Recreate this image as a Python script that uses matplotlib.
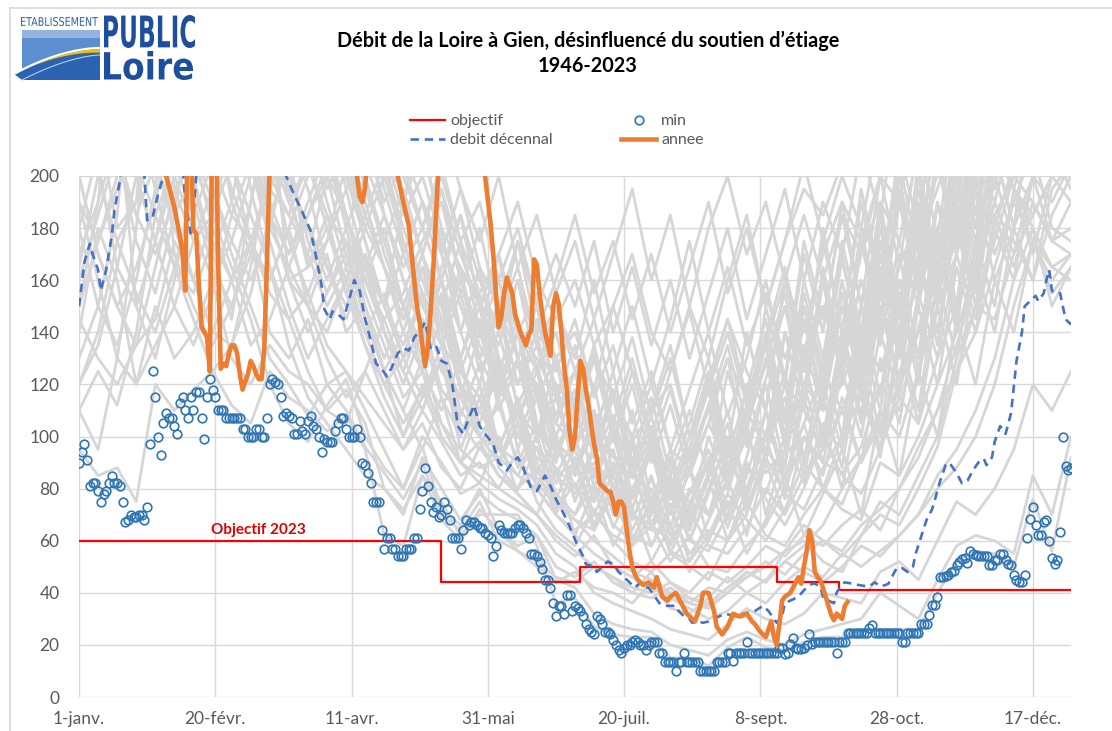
import numpy as np
import matplotlib
matplotlib.use("Agg")
import matplotlib.pyplot as plt
from matplotlib.font_manager import FontProperties
from matplotlib.textpath import TextPath
from matplotlib.patches import PathPatch, Rectangle, Polygon
from matplotlib.transforms import Affine2D

plt.rcParams['font.family'] = ['Lato', 'DejaVu Sans']

# --- axe des jours ---
jours_ticks = [1, 51, 101, 151, 201, 251, 301, 351]
labels_ticks = ["1-janv.", "20-févr.", "11-avr.", "31-mai", "20-juil.",
                "8-sept.", "28-oct.", "17-déc."]

# --- min journalier 1946-2023 (un point par jour) ---
debit_min = [
    # janv.
    90, 94, 97, 91, 81, 82, 82, 79, 75, 78, 79, 82, 85, 82, 82, 81, 75, 67, 68, 70,
    69, 69, 70, 70, 68, 73, 97, 125, 115, 100, 93,
    # févr.
    105, 109, 107, 107, 104, 101, 113, 115, 110, 107, 115, 110, 117, 117, 107, 99,
    115, 122, 118, 115, 110, 110, 110, 107, 107, 107, 107, 107,
    # mars
    107, 103, 103, 100, 100, 100, 103, 103, 100, 100, 107, 120, 122, 121, 120, 115,
    108, 109, 108, 107, 101, 101, 106, 102, 101, 106, 108, 104, 103, 100, 94,
    # avr.
    99, 98, 98, 98, 102, 105, 107, 107, 103, 100, 100, 100, 103, 100, 90, 89, 86,
    82, 75, 75, 75, 64, 57, 61, 61, 57, 57, 54, 54, 54,
    # mai
    57, 57, 57, 61, 61, 72, 79, 88, 81, 75, 71, 73, 69, 70, 75, 72, 68, 61, 61, 61,
    57, 64, 68, 66, 67, 67, 66, 65, 65, 63, 62,
    # juin
    61, 54, 58, 66, 64, 63, 63, 63, 63, 65, 66, 66, 65, 63, 61, 55, 55, 54, 52, 49,
    45, 45, 42, 36, 31, 35, 35, 32, 39, 39,
    # juil.
    33, 35, 34, 33, 31, 28, 26, 25, 24, 31, 30, 28, 25, 25, 24, 22, 20, 18, 17, 19,
    20, 20, 21, 22, 21, 20, 20, 18, 20, 21, 21,
    # août
    21, 17, 17, 13.5, 13.5, 13.5, 13.5, 10, 13.5, 13.5, 17, 13.5, 13.5, 13.5, 13.5,
    13.5, 10, 10, 10, 10, 10, 10, 13.5, 13.5, 13.5, 13.5, 17, 17, 14, 17, 17,
    # sept.
    17, 17, 21, 17, 17, 17, 17, 17, 17, 17, 17, 17, 17, 17, 19, 19, 16.5, 17, 20.5,
    22.5, 19, 18.5, 18.5, 19, 20, 24, 20.5, 21, 21, 21,
    # oct.
    21, 21, 21, 21, 21, 17, 21, 21, 21, 24.5, 24.5, 24.5, 24.5, 24.5, 24.5, 24.5,
    24.5, 26.5, 27.5, 24.5, 24.5, 24.5, 24.5, 24.5, 24.5, 24.5, 24.5, 24.5, 24.5,
    21, 21,
    # nov.
    24.5, 24.5, 24.5, 24.5, 24.5, 28, 28, 28, 31.5, 35.5, 35.5, 38.5, 46, 46, 46.5,
    47, 48, 48.5, 50.5, 52, 53, 53.5, 51.5, 56, 55, 54.5, 54, 54, 54, 54,
    # déc.
    50.5, 50.5, 52.5, 52.5, 55, 55, 52.5, 51, 50.5, 47, 45, 44, 44, 47, 61, 68.5,
    73, 66, 62, 62, 67, 68, 60, 53.5, 51, 52.5, 63.5, 100, 88.5, 87, 88,
]

# --- débit décennal sec ---
jours_decennal = [1, 3, 5, 6, 8, 9, 11, 13, 14, 16, 17, 20, 24, 25, 26, 28, 30, 32,
                  35, 39, 40, 42, 43, 44, 46, 55, 65, 74, 77, 79, 83, 86, 88, 90,
                  91, 93, 94, 96, 98, 100, 102, 104, 106, 108, 110, 112, 114, 116,
                  118, 120, 122, 124, 127, 128, 130, 132, 134, 136, 138, 140, 142,
                  144, 146, 148, 150, 153, 155, 158, 160, 162, 164, 165, 167, 169,
                  171, 172, 174, 176, 178, 180, 182, 184, 186, 187, 190, 191, 193,
                  195, 197, 199, 201, 203, 205, 207, 209, 210, 212, 214, 216, 218,
                  220, 221, 223, 225, 226, 228, 230, 232, 234, 236, 238, 240, 242,
                  245, 249, 252, 254, 257, 259, 260, 262, 265, 267, 270, 271, 273,
                  274, 276, 278, 279, 281, 282, 285, 287, 290, 291, 293, 295, 297,
                  298, 300, 301, 303, 305, 307, 308, 310, 312, 314, 315, 317, 319,
                  320, 321, 323, 325, 327, 329, 331, 333, 334, 336, 337, 339, 341,
                  343, 344, 345, 347, 348, 350, 352, 353, 355, 356, 357, 358, 359,
                  361, 362, 363, 365]
debit_decennal = [150, 167, 174, 170, 164, 156, 164, 177, 187, 198, 205, 225, 215,
                  200, 183, 184, 193, 200, 220, 205, 190, 178, 185, 200, 225, 240,
                  235, 215, 200, 195, 186, 179, 169, 158, 149, 145, 148, 147, 145,
                  152, 160, 156, 145, 137, 128, 126, 123, 127, 132, 134, 133, 138,
                  142, 144, 134, 135, 129, 128, 120, 104, 101, 107, 112, 104, 101,
                  97, 90, 87, 90, 92, 88, 85, 80, 79, 83, 85, 81, 76, 72, 68, 63,
                  58, 54, 51, 50, 48, 50, 52, 51, 48, 46, 44, 42, 44, 42, 42, 39,
                  36, 35, 35, 35, 33, 31, 30, 28.5, 29, 28.5, 29, 30, 31, 32, 31.5,
                  31, 32, 33, 35, 33, 28.5, 31, 36, 37, 38.5, 41, 43.5, 43.5, 42.5,
                  38.5, 37, 36, 40, 43.5, 44, 43.5, 43, 42.5, 42.5, 44, 42.5, 43,
                  43.5, 47.5, 49.5, 49.5, 48, 50, 55, 61.5, 68, 72, 75.5, 83, 89,
                  90, 89, 86, 82, 83, 87, 90, 91.5, 89, 92, 98, 104, 101, 109, 119,
                  129, 140, 150, 152, 154, 152, 155, 160, 164, 156, 155, 155, 150,
                  145, 143]

# --- année 2023 ---
jours_annee = [1, 31, 33, 35, 36, 38, 39, 40, 41, 42, 43, 44, 45, 46, 47, 48, 49, 50,
               51, 52, 53, 54, 55, 56, 57, 58, 59, 60, 61, 62, 63, 64, 65, 66, 67,
               68, 69, 70, 71, 72, 100, 102, 103, 104, 105, 106, 107, 108, 116, 118,
               120, 122, 124, 125, 126, 127, 128, 129, 130, 131, 132, 133, 134, 148,
               150, 152, 153, 154, 155, 156, 157, 158, 160, 161, 163, 165, 166, 167,
               168, 169, 170, 171, 172, 174, 175, 176, 177, 178, 179, 180, 181, 182,
               183, 184, 185, 186, 187, 188, 189, 190, 191, 192, 193, 195, 196, 197,
               198, 199, 200, 201, 202, 203, 204, 205, 206, 208, 210, 212, 213, 215,
               217, 218, 220, 222, 224, 227, 229, 230, 232, 234, 235, 237, 239, 241,
               243, 244, 246, 248, 249, 251, 253, 254, 255, 256, 257, 258, 259, 260,
               262, 264, 265, 266, 267, 268, 269, 270, 271, 272, 273, 275, 276, 277,
               278, 279, 281, 282, 283]
debit_annee = [260, 255, 200, 192, 188, 177, 170, 156, 230, 215, 179, 178, 158, 142,
               140, 138, 125, 240, 240, 170, 126, 128, 127, 132, 135, 135, 132, 124,
               118, 121, 124, 129, 127, 124, 122, 122, 134, 168, 205, 260, 260, 215,
               200, 192, 190, 196, 210, 240, 240, 200, 190, 181, 160, 150, 144, 135,
               127, 134, 148, 164, 185, 205, 240, 240, 200, 182, 170, 155, 142, 146,
               155, 161, 155, 147, 140, 135, 139, 141, 168, 166, 155, 147, 140, 131,
               150, 155, 151, 140, 127, 118, 102, 95, 100, 116, 129, 126, 118, 112,
               104, 97, 92, 82, 81, 79, 78.7, 75, 70, 75, 75, 73, 64, 56, 50, 47, 45,
               43, 44, 42, 46, 38.5, 37, 38.5, 40, 36, 32, 29, 35, 40, 40, 33, 27, 24,
               27, 32, 31, 31, 32, 29, 28, 25, 23, 26, 29, 23, 20, 28, 37, 38.5, 40,
               44, 46, 43.5, 50, 56, 64, 60, 48, 46, 45, 38.5, 35, 31.5, 29.5, 32, 30,
               35, 36.5]

# --- objectif 2023 (paliers) ---
objectif_debut = [1, 134, 185, 257, 280, 365]
objectif_valeur = [60, 44, 50, 44, 41, 41]

# --- autres années (lecture hebdomadaire approximative) ---
jours_gris = np.arange(1, 366, 7)
annees_grises = [
    [95, 85, 88, 75, 120, 110, 118, 125, 112, 105, 125, 115, 110,
     102, 108, 95, 62, 58, 85, 75, 62, 70, 70, 70, 58, 36,
     38, 27, 24, 23, 23, 15, 15, 12, 19, 23, 19, 18, 21,
     23, 23, 26, 26, 26, 26, 40, 52, 56, 55, 50, 76, 56, 92],
    [140, 180, 160, 120, 150, 130, 140, 160, 130, 120, 135, 125, 120,
     110, 118, 105, 80, 70, 92, 80, 68, 78, 72, 68, 62, 45,
     42, 32, 28, 26, 25, 20, 18, 16, 22, 25, 22, 20, 24,
     26, 28, 30, 40, 35, 30, 45, 58, 62, 60, 55, 85, 70, 100],
    [110, 95, 130, 180, 250, 170, 150, 135, 150, 175, 140, 130, 145,
     120, 125, 110, 95, 80, 100, 90, 78, 82, 76, 72, 66, 55,
     50, 40, 36, 33, 30, 26, 24, 22, 28, 34, 30, 28, 32,
     40, 38, 36, 48, 52, 45, 60, 75, 70, 80, 95, 120, 110, 125],
    [165, 200, 230, 150, 130, 160, 200, 170, 145, 190, 230, 160, 150,
     170, 140, 150, 125, 100, 115, 130, 95, 88, 92, 85, 80, 70,
     62, 55, 50, 46, 42, 38, 34, 30, 33, 40, 45, 52, 48,
     44, 50, 58, 54, 62, 70, 85, 95, 110, 130, 160, 180, 150, 165],
    [260, 220, 180, 190, 260, 280, 210, 180, 160, 175, 200, 185, 170,
     150, 165, 140, 120, 130, 155, 140, 110, 100, 95, 115, 90, 75,
     68, 60, 54, 48, 45, 40, 38, 36, 42, 48, 44, 56, 60,
     52, 48, 62, 75, 70, 85, 100, 130, 150, 145, 170, 200, 230, 210],
    [180, 150, 135, 160, 195, 260, 280, 230, 190, 170, 160, 180, 150,
     130, 115, 125, 110, 95, 105, 88, 80, 96, 85, 78, 70, 62,
     56, 50, 46, 42, 40, 44, 38, 35, 40, 46, 52, 47, 55,
     60, 56, 66, 72, 80, 92, 110, 125, 140, 165, 190, 210, 180, 175],
    [120, 135, 165, 200, 175, 150, 135, 155, 185, 205, 175, 150, 130,
     145, 160, 135, 115, 100, 120, 105, 90, 85, 80, 95, 75, 64,
     58, 72, 60, 52, 48, 55, 50, 45, 60, 75, 62, 58, 70,
     80, 72, 68, 90, 85, 100, 120, 140, 165, 190, 220, 240, 210, 195],
    [260, 280, 210, 175, 155, 185, 230, 270, 280, 210, 185, 160, 165,
     180, 155, 170, 150, 130, 140, 160, 125, 115, 130, 105, 95, 88,
     80, 75, 95, 70, 66, 60, 72, 58, 55, 65, 80, 70, 85,
     95, 110, 90, 105, 125, 140, 155, 175, 200, 230, 260, 280, 260, 240],
    [200, 170, 150, 135, 145, 175, 160, 140, 135, 155, 185, 205, 175,
     155, 170, 145, 125, 140, 165, 150, 120, 110, 125, 100, 92, 85,
     78, 90, 82, 70, 64, 78, 60, 56, 70, 90, 76, 66, 80,
     100, 85, 78, 95, 115, 105, 130, 150, 170, 185, 200, 190, 175, 170],
    [130, 150, 185, 260, 280, 195, 175, 185, 205, 240, 260, 210, 165,
     185, 175, 160, 145, 155, 175, 190, 160, 140, 150, 130, 120, 105,
     96, 110, 92, 84, 100, 80, 75, 70, 88, 110, 95, 85, 105,
     125, 110, 130, 150, 135, 160, 180, 200, 230, 260, 270, 270, 260, 260],
    [260, 270, 260, 225, 195, 165, 155, 175, 160, 135, 145, 165, 185,
     200, 185, 165, 150, 170, 190, 175, 150, 130, 140, 160, 135, 120,
     110, 130, 115, 100, 120, 95, 88, 105, 90, 80, 100, 120, 110,
     95, 130, 150, 140, 165, 185, 200, 230, 260, 270, 270, 250, 240, 235],
    [150, 190, 260, 270, 205, 185, 200, 260, 275, 265, 210, 175, 155,
     135, 125, 115, 105, 95, 110, 98, 85, 90, 80, 75, 70, 60,
     54, 62, 50, 46, 52, 44, 40, 48, 44, 50, 58, 54, 62,
     58, 66, 72, 64, 80, 96, 110, 135, 160, 190, 220, 200, 190, 205],
    [260, 205, 165, 150, 175, 200, 265, 270, 235, 195, 165, 145, 125,
     110, 105, 125, 145, 125, 110, 130, 115, 100, 90, 105, 84, 76,
     70, 82, 66, 60, 74, 56, 52, 62, 78, 68, 60, 72, 90,
     80, 74, 92, 110, 100, 125, 150, 170, 195, 210, 195, 185, 200, 205],
    [110, 125, 112, 140, 185, 205, 265, 275, 280, 270, 235, 195, 165,
     175, 205, 185, 165, 145, 170, 195, 170, 150, 160, 140, 130, 115,
     125, 105, 118, 98, 110, 120, 92, 110, 130, 115, 100, 140, 125,
     150, 135, 170, 190, 175, 210, 240, 265, 270, 275, 270, 270, 265, 265],
    [265, 260, 235, 205, 185, 165, 145, 125, 135, 165, 205, 235, 205,
     185, 155, 135, 120, 105, 118, 100, 90, 98, 85, 80, 88, 70,
     64, 70, 62, 58, 66, 52, 62, 50, 48, 58, 66, 80, 100,
     90, 86, 96, 120, 110, 142, 165, 185, 205, 190, 170, 185, 200, 190],
    [170, 190, 215, 265, 270, 260, 235, 205, 185, 175, 195, 215, 195,
     165, 145, 165, 185, 160, 140, 165, 185, 160, 140, 175, 150, 130,
     140, 118, 150, 125, 110, 135, 100, 120, 145, 125, 110, 160, 140,
     170, 190, 175, 200, 230, 255, 270, 270, 270, 265, 250, 235, 215, 205],
    [265, 270, 265, 260, 235, 205, 185, 205, 235, 265, 270, 265, 235,
     205, 185, 155, 135, 115, 125, 100, 90, 110, 96, 90, 82, 74,
     68, 64, 80, 62, 58, 72, 55, 64, 60, 70, 92, 78, 72,
     88, 100, 115, 95, 120, 140, 160, 190, 230, 260, 270, 270, 265, 265],
    [190, 160, 130, 120, 135, 150, 175, 195, 170, 150, 130, 120, 108,
     120, 110, 96, 86, 76, 90, 70, 64, 75, 60, 56, 50, 44,
     48, 42, 40, 36, 44, 34, 32, 38, 46, 40, 36, 44, 50,
     46, 55, 50, 56, 62, 70, 80, 88, 100, 120, 150, 175, 160, 170],
    [265, 235, 205, 185, 205, 235, 265, 270, 265, 225, 195, 185, 205,
     235, 205, 175, 150, 135, 155, 125, 115, 140, 118, 108, 120, 98,
     90, 100, 84, 80, 95, 76, 88, 70, 82, 100, 86, 95, 120,
     110, 120, 140, 125, 150, 175, 195, 220, 260, 270, 270, 265, 265, 265],
    [145, 130, 120, 135, 165, 195, 205, 185, 165, 145, 120, 105, 98,
     112, 122, 100, 88, 80, 96, 72, 66, 80, 64, 58, 62, 50,
     46, 52, 44, 40, 48, 38, 36, 42, 40, 46, 50, 56, 66,
     60, 54, 62, 70, 66, 80, 96, 125, 150, 180, 205, 235, 265, 270],
    [270, 275, 270, 265, 270, 275, 270, 265, 205, 175, 155, 145, 155,
     175, 195, 205, 185, 165, 180, 200, 175, 155, 170, 190, 160, 145,
     160, 135, 150, 170, 140, 125, 150, 130, 160, 185, 150, 175, 195,
     185, 205, 230, 210, 255, 265, 270, 270, 270, 270, 270, 270, 270, 270],
    [120, 140, 175, 155, 140, 165, 195, 225, 205, 185, 165, 135, 115,
     105, 95, 85, 80, 72, 85, 68, 60, 72, 64, 56, 52, 46,
     44, 50, 46, 40, 38, 42, 36, 34, 40, 48, 44, 52, 58,
     66, 80, 92, 105, 120, 140, 165, 190, 200, 210, 195, 180, 165, 160],
    [270, 270, 240, 200, 175, 210, 260, 270, 270, 265, 230, 190, 170,
     200, 230, 260, 210, 170, 150, 180, 140, 120, 150, 110, 100, 130,
     95, 120, 85, 110, 75, 95, 70, 100, 80, 120, 90, 140, 110,
     160, 120, 180, 140, 200, 160, 230, 180, 150, 200, 240, 270, 270, 270],
    [270, 265, 270, 270, 260, 230, 195, 170, 190, 230, 265, 270, 260,
     240, 200, 175, 150, 190, 220, 170, 140, 165, 125, 145, 105, 90,
     115, 80, 105, 72, 95, 65, 88, 60, 78, 105, 70, 95, 130,
     100, 140, 115, 160, 130, 180, 150, 200, 170, 210, 180, 230, 260, 265],
    [200, 240, 270, 270, 270, 240, 210, 190, 220, 265, 270, 270, 240,
     210, 180, 200, 175, 150, 170, 140, 160, 130, 115, 140, 100, 120,
     85, 110, 80, 100, 70, 90, 110, 85, 125, 100, 150, 120, 170,
     140, 190, 150, 175, 130, 165, 140, 185, 155, 205, 235, 260, 270, 270],
    [270, 270, 270, 265, 230, 200, 180, 160, 175, 200, 240, 265, 270,
     270, 250, 220, 185, 160, 140, 160, 125, 110, 130, 95, 115, 85,
     100, 75, 90, 68, 85, 62, 80, 70, 95, 75, 110, 85, 105,
     80, 100, 125, 95, 140, 110, 160, 130, 175, 150, 195, 170, 200, 215],
    [230, 200, 175, 190, 220, 250, 270, 270, 270, 260, 225, 200, 180,
     160, 180, 150, 130, 150, 125, 110, 130, 100, 90, 110, 80, 70,
     90, 66, 82, 60, 76, 55, 72, 90, 65, 85, 110, 80, 120,
     95, 135, 105, 150, 120, 170, 140, 190, 160, 200, 175, 160, 185, 200],
    [270, 270, 265, 240, 205, 180, 160, 185, 215, 250, 270, 270, 270,
     255, 230, 200, 220, 190, 170, 195, 160, 140, 170, 130, 150, 115,
     135, 100, 125, 90, 115, 85, 105, 130, 95, 140, 110, 160, 125,
     180, 140, 195, 160, 210, 180, 240, 200, 230, 260, 270, 270, 270, 270],
    [180, 210, 245, 270, 270, 270, 250, 220, 195, 175, 160, 180, 200,
     225, 195, 165, 140, 120, 140, 115, 100, 120, 95, 85, 100, 78,
     70, 88, 65, 80, 58, 74, 52, 68, 84, 62, 90, 70, 100,
     85, 115, 90, 130, 105, 150, 120, 165, 140, 180, 160, 200, 220, 240],
    [270, 270, 270, 270, 270, 255, 225, 195, 175, 160, 180, 210, 240,
     215, 185, 160, 180, 150, 130, 155, 120, 105, 125, 100, 118, 92,
     110, 84, 100, 76, 94, 70, 86, 112, 80, 104, 130, 96, 150,
     120, 170, 130, 185, 145, 200, 160, 210, 180, 225, 250, 265, 270, 270],
    [150, 175, 200, 230, 260, 270, 270, 270, 245, 215, 185, 160, 140,
     155, 175, 145, 125, 110, 130, 105, 95, 115, 88, 80, 96, 72,
     82, 64, 78, 58, 70, 92, 66, 84, 60, 80, 100, 76, 115,
     90, 125, 100, 140, 115, 155, 130, 170, 145, 185, 165, 190, 175, 180],
    [270, 240, 210, 185, 170, 190, 220, 255, 270, 270, 270, 250, 220,
     190, 165, 185, 205, 175, 155, 140, 165, 130, 150, 120, 135, 108,
     125, 95, 118, 88, 108, 80, 100, 125, 92, 118, 145, 108, 160,
     130, 175, 140, 190, 150, 205, 165, 220, 185, 240, 265, 270, 270, 270],
    [260, 270, 270, 250, 215, 185, 160, 140, 160, 190, 220, 250, 230,
     200, 170, 145, 125, 110, 95, 115, 90, 82, 100, 78, 70, 88,
     62, 80, 58, 72, 52, 66, 48, 60, 75, 55, 68, 85, 62,
     78, 95, 70, 110, 85, 125, 100, 145, 120, 160, 140, 175, 155, 165],
    [270, 265, 255, 270, 270, 270, 270, 265, 240, 205, 180, 165, 150,
     140, 160, 180, 165, 140, 125, 145, 118, 100, 112, 90, 105, 82,
     95, 76, 90, 68, 84, 62, 78, 95, 72, 92, 120, 88, 135,
     110, 150, 118, 165, 135, 180, 150, 200, 170, 215, 245, 265, 270, 270],
    [200, 170, 150, 165, 190, 225, 260, 270, 255, 220, 190, 170, 185,
     205, 230, 200, 170, 150, 135, 160, 130, 150, 115, 130, 105, 95,
     110, 85, 105, 78, 98, 72, 92, 112, 84, 108, 135, 100, 145,
     115, 160, 125, 175, 140, 190, 155, 205, 175, 215, 195, 220, 235, 250],
    [270, 270, 270, 270, 255, 220, 190, 165, 150, 170, 200, 230, 265,
     270, 260, 230, 195, 170, 190, 160, 140, 165, 130, 120, 140, 105,
     125, 92, 115, 86, 104, 78, 96, 120, 88, 112, 140, 105, 155,
     125, 168, 135, 180, 145, 195, 160, 215, 180, 230, 255, 270, 270, 270],
    [270, 270, 270, 270, 270, 270, 270, 270, 270, 255, 225, 200, 180,
     165, 150, 170, 140, 125, 110, 130, 100, 120, 90, 105, 80, 100,
     75, 95, 70, 88, 65, 84, 60, 78, 100, 70, 95, 120, 90,
     130, 100, 150, 115, 170, 130, 190, 150, 210, 240, 265, 270, 270, 270],
    [270, 270, 265, 255, 270, 270, 270, 265, 270, 270, 270, 270, 255,
     230, 205, 180, 200, 175, 150, 135, 155, 125, 140, 112, 128, 100,
     118, 92, 108, 84, 100, 76, 95, 118, 85, 110, 135, 100, 145,
     110, 155, 120, 170, 135, 185, 150, 195, 165, 210, 180, 230, 250, 265],
    [255, 230, 215, 240, 265, 270, 270, 270, 270, 270, 265, 240, 215,
     195, 210, 185, 165, 150, 170, 145, 130, 155, 120, 108, 125, 95,
     85, 105, 78, 96, 70, 90, 64, 84, 105, 76, 100, 125, 92,
     115, 88, 135, 100, 155, 120, 175, 140, 195, 160, 180, 200, 175, 190],
    [270, 270, 270, 270, 265, 245, 260, 270, 270, 270, 270, 270, 270,
     260, 240, 215, 190, 205, 180, 160, 185, 150, 170, 140, 155, 125,
     145, 115, 135, 105, 125, 95, 118, 140, 108, 130, 160, 122, 175,
     145, 185, 150, 200, 165, 215, 175, 230, 195, 250, 270, 270, 270, 270],
    [190, 175, 195, 220, 250, 270, 270, 270, 260, 235, 210, 190, 205,
     180, 160, 140, 155, 130, 115, 135, 105, 95, 115, 88, 100, 76,
     92, 70, 86, 64, 80, 58, 74, 92, 68, 88, 78, 100, 82,
     105, 80, 120, 92, 135, 105, 150, 120, 165, 140, 180, 160, 195, 205],
    [270, 270, 270, 260, 240, 225, 245, 270, 270, 270, 270, 255, 230,
     205, 225, 195, 175, 195, 170, 150, 175, 140, 160, 130, 145, 118,
     105, 130, 98, 120, 90, 112, 85, 105, 130, 96, 122, 150, 115,
     165, 130, 180, 145, 195, 160, 210, 175, 225, 200, 240, 260, 270, 270],
    [225, 250, 270, 270, 270, 270, 255, 235, 250, 270, 270, 270, 260,
     240, 215, 190, 165, 145, 165, 135, 125, 145, 110, 128, 98, 115,
     88, 108, 80, 98, 72, 92, 68, 86, 110, 78, 102, 90, 130,
     98, 140, 108, 155, 120, 170, 135, 185, 150, 175, 200, 225, 250, 260],
    [270, 270, 270, 270, 270, 270, 270, 270, 270, 270, 270, 270, 270,
     270, 265, 240, 210, 185, 200, 175, 155, 180, 145, 165, 135, 150,
     125, 145, 115, 138, 108, 130, 100, 122, 145, 115, 138, 165, 130,
     175, 140, 190, 155, 205, 170, 220, 190, 240, 265, 270, 270, 270, 270],
    [160, 185, 210, 235, 260, 270, 270, 255, 230, 205, 185, 170, 190,
     210, 185, 160, 140, 125, 145, 118, 108, 128, 96, 112, 86, 100,
     80, 96, 72, 90, 66, 85, 60, 80, 98, 72, 94, 115, 85,
     120, 95, 140, 110, 160, 125, 180, 145, 200, 170, 190, 175, 165, 170],
    [270, 270, 270, 270, 270, 270, 270, 270, 270, 270, 270, 270, 270,
     250, 225, 200, 225, 200, 180, 160, 185, 150, 135, 160, 125, 140,
     110, 132, 100, 125, 96, 118, 90, 112, 135, 104, 128, 155, 118,
     160, 125, 175, 140, 190, 155, 205, 170, 220, 195, 235, 260, 270, 270],
    [270, 270, 270, 270, 270, 270, 270, 270, 270, 270, 270, 270, 270,
     270, 270, 260, 230, 200, 180, 205, 175, 190, 160, 180, 150, 170,
     150, 175, 140, 165, 135, 160, 130, 155, 180, 145, 170, 195, 160,
     190, 170, 210, 185, 230, 260, 270, 270, 270, 270, 270, 270, 270, 270],
    [270, 270, 270, 270, 270, 270, 270, 270, 270, 270, 270, 270, 270,
     265, 240, 220, 240, 210, 190, 170, 195, 165, 150, 175, 140, 160,
     185, 155, 175, 145, 170, 140, 165, 190, 155, 180, 150, 175, 205,
     175, 200, 180, 220, 200, 250, 270, 270, 270, 270, 270, 270, 270, 270],
    [270, 270, 270, 270, 270, 270, 270, 270, 270, 270, 255, 235, 250,
     270, 270, 245, 215, 190, 210, 180, 165, 150, 170, 140, 125, 150,
     130, 160, 125, 150, 120, 145, 175, 140, 165, 135, 155, 130, 150,
     125, 150, 135, 165, 150, 185, 170, 205, 235, 260, 270, 270, 270, 270],
    [250, 270, 270, 270, 270, 270, 270, 270, 270, 270, 270, 270, 270,
     270, 270, 270, 250, 225, 200, 220, 195, 175, 200, 165, 185, 155,
     175, 145, 170, 195, 160, 185, 150, 180, 200, 170, 190, 160, 185,
     160, 185, 170, 200, 190, 230, 255, 270, 270, 270, 270, 270, 270, 270],
    [270, 270, 270, 270, 270, 270, 270, 270, 270, 270, 270, 270, 270,
     270, 255, 230, 205, 180, 160, 140, 160, 135, 120, 140, 115, 130,
     110, 135, 105, 130, 100, 125, 148, 118, 140, 112, 135, 160, 128,
     150, 125, 160, 135, 175, 150, 190, 170, 210, 240, 265, 270, 270, 270],
]

# --- figure ---
W, H = 1112, 731
fig = plt.figure(figsize=(W / 100, H / 100), dpi=100)
ax = fig.add_axes([79 / W, 1 - 697 / H, (1071 - 79) / W, (697 - 176) / H])

gris = '#d6d6d6'
for serie in annees_grises:
    ax.plot(jours_gris[:len(serie)], serie, color=gris, lw=2.0, zorder=1,
            solid_joinstyle='round')

h_obj, = ax.step(objectif_debut, objectif_valeur, where='post', color='#ff0000',
                 lw=1.6, zorder=3, label='objectif')
h_dec, = ax.plot(jours_decennal, debit_decennal, color='#4472c4', lw=1.9,
                 linestyle=(0, (3.2, 2.2)), zorder=4, label='debit décennal')
jours_min = np.arange(1, len(debit_min) + 1)
h_min, = ax.plot(jours_min, debit_min, linestyle='none', marker='o', ms=6.2,
                 mfc='none', mec='#2e75b6', mew=1.2, zorder=5, label='min')
h_an, = ax.plot(jours_annee, debit_annee, color='#ed7d31', lw=3.3, zorder=6,
                solid_joinstyle='round', label='annee')

ax.text(67, 64, 'Objectif 2023', color='#e00000', fontsize=11, fontweight='bold',
        ha='center', va='center', zorder=7)

ax.set_xlim(1, 365)
ax.set_ylim(0, 200)
ax.set_xticks(jours_ticks)
ax.set_xticklabels(labels_ticks)
ax.set_yticks(range(0, 201, 20))
ax.tick_params(axis='both', length=0, labelsize=12.5, colors='#595959')
ax.tick_params(axis='y', pad=14)
ax.tick_params(axis='x', pad=10)
ax.grid(True, color='#d9d9d9', lw=1.0)
ax.set_axisbelow(True)
for sp in ax.spines.values():
    sp.set_visible(False)

leg = fig.legend(handles=[h_obj, h_dec, h_min, h_an], ncol=2, loc='upper left',
                 bbox_to_anchor=(402 / W, 1 - 106 / H), frameon=False,
                 fontsize=11.5, handlelength=2.2, handletextpad=0.3,
                 columnspacing=4.3, labelspacing=0.3, borderpad=0)
for t in leg.get_texts():
    t.set_color('#595959')

fig.text(588 / W, 1 - 41 / H, 'Débit de la Loire à Gien, désinfluencé du soutien d’étiage',
         ha='center', va='center', fontsize=14.3, fontweight='bold', color='black')
fig.text(588 / W, 1 - 66 / H, '1946-2023', ha='center', va='center', fontsize=14.3,
         fontweight='bold', color='black')

# --- cadre et logo (coordonnées en pixels) ---
deco = fig.add_axes([0, 0, 1, 1], zorder=10)
deco.set_xlim(0, W)
deco.set_ylim(H, 0)
deco.axis('off')
deco.patch.set_alpha(0)
deco.plot([10, W], [8, 8], color='#d9d9d9', lw=1.2)
deco.plot([10, 10], [8, H], color='#d9d9d9', lw=1.2)


def texte_boite(txt, x0, y0, x1, y1, couleur, poids='bold'):
    fp = FontProperties(family='DejaVu Sans', weight=poids)
    p = TextPath((0, 0), txt, size=10, prop=fp)
    e = p.get_extents()
    tr = (Affine2D().translate(-e.x0, -e.y0)
          .scale((x1 - x0) / e.width, -(y1 - y0) / e.height)
          .translate(x0, y1))
    deco.add_patch(PathPatch(tr.transform_path(p), facecolor=couleur, lw=0))


deco.add_patch(Rectangle((22, 30), 78, 8, facecolor='#93b4e0', lw=0))
deco.add_patch(Rectangle((22, 38), 78, 42, facecolor='#5b8fd2', lw=0))
xs = np.linspace(14, 100, 40)
courbe = 48 + 26 * ((100 - xs) / 86) ** 1.8
deco.add_patch(Polygon(np.column_stack([np.r_[xs, 100, 22], np.r_[courbe, 80, 80]]),
                       facecolor='#2a63b2', lw=0))
deco.plot(xs, courbe, color='white', lw=1.6)
xj = np.linspace(30, 100, 30)
cj = 48 + 26 * ((100 - xj) / 86) ** 1.8
deco.add_patch(Polygon(np.column_stack([np.r_[xj, xj[::-1]],
                                        np.r_[cj + 1.2, (cj + 1.2 + 3.5 * (xj - 30) / 70)[::-1]]]),
                       facecolor='#f3c300', lw=0))
xb = np.linspace(22, 100, 30)
deco.plot(xb, 55 + 25 * ((100 - xb) / 78) ** 1.6, color='#b9cdea', lw=0.8)
texte_boite('ETABLISSEMENT', 21, 17, 98, 26, '#2d5fa8', poids='normal')
texte_boite('PUBLIC', 104, 15, 195, 48, '#1c4f9e')
texte_boite('Loire', 104, 51, 193, 80, '#1c4f9e')

fig.savefig('out.png', dpi=100)
